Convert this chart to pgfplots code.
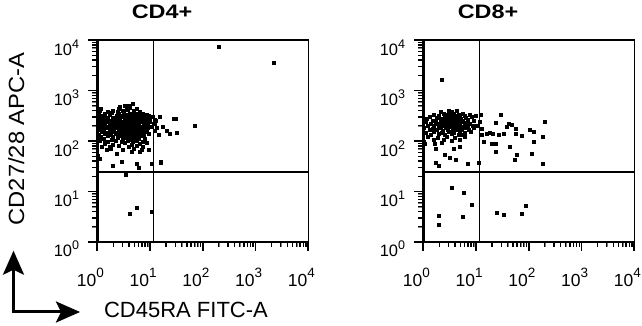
\documentclass[border=0pt]{standalone}
\usepackage{pgfplots}
\pgfplotsset{compat=1.18}
\usepackage{fontspec}
\setmainfont{Liberation Sans}
\usepackage{graphicx}
\usetikzlibrary{arrows.meta}
\newcommand{\xs}[1]{10\raisebox{9pt}{\fontsize{13.5pt}{13.5pt}\selectfont #1}}
\newcommand{\ys}[1]{10\raisebox{7pt}{\fontsize{12.5pt}{12.5pt}\selectfont #1}}

\begin{document}
\begin{tikzpicture}
\useasboundingbox (0,0) rectangle (642pt,326pt);

\begin{axis}[at={(97.3pt,84pt)}, anchor=south west,
  scale only axis, width=211pt, height=202pt,
  xmode=log, ymode=log, xmin=1, xmax=10000, ymin=1, ymax=10000,
  xtick={1,10,100,1000,10000}, ytick={1,10,100,1000,10000},
  xticklabels={\xs{0},\xs{1},\xs{2},\xs{3},\xs{4}},
  yticklabels={\ys{0},\ys{1},\ys{2},\ys{3},\ys{4}},
  tick align=outside, xtick pos=bottom, ytick pos=left,
  major tick length=9pt, minor tick length=5pt,
  every major tick/.style={draw=black, line width=1.6pt},
  axis line style={line width=1.1pt},
  xticklabel style={font=\fontsize{17.5pt}{17.5pt}\selectfont, inner sep=0pt, anchor=base, xshift=-7pt, yshift=-36pt},
  yticklabel style={font=\fontsize{16.5pt}{16.5pt}\selectfont, inner sep=0pt, anchor=base east, xshift=-9pt, yshift=-15pt},
  clip=false]
\addplot[only marks, mark=square*, mark size=1.5pt, black] coordinates {
(4.6,560)
(3.3,505) (4.0,490) (2.7,470)
(2.5,445) (4.2,455) (5.5,430) (1.15,440) (3.6,425)
(1.1,400) (1.6,385) (2.0,405) (3.0,395) (3.8,410) (4.8,390) (6.5,380) (2.4,375)
(1.05,350) (1.4,345) (1.9,360) (2.6,340) (3.2,355) (4.1,345) (5.0,360) (5.9,340) (7.2,350) (8.5,335) (3.6,330)
(1.2,318) (1.7,325) (2.3,312) (2.9,322) (3.6,308) (4.4,320) (5.3,312) (6.3,325) (7.8,310) (9.5,318) (11,300)
(1.0,290) (1.3,296) (1.6,284) (2.0,292) (2.5,286) (3.0,298) (3.5,288) (4.0,294) (4.7,282) (5.5,296) (6.6,286) (8.0,292) (10,284)
(1.1,262) (1.45,270) (1.8,258) (2.2,268) (2.7,262) (3.3,272) (3.9,260) (4.5,268) (5.2,258) (6.0,270) (7.0,262) (8.8,266) (12,270)
(1.0,238) (1.25,246) (1.55,236) (1.9,244) (2.35,234) (2.8,242) (3.4,248) (3.7,232) (4.2,240) (4.9,246) (5.7,236) (6.8,244) (8.2,236) (9.8,242)
(1.15,218) (1.4,224) (1.75,214) (2.1,222) (2.6,216) (3.1,226) (3.6,214) (4.1,222) (4.6,212) (5.4,220) (6.2,226) (7.5,216) (9.0,222) (11.5,218)
(1.0,198) (1.3,204) (1.6,196) (2.0,202) (2.4,194) (2.9,206) (3.3,198) (3.8,204) (4.3,192) (5.0,200) (5.8,206) (6.7,196) (8.0,202) (10.5,196)
(1.1,180) (1.5,186) (1.85,178) (2.25,184) (2.7,176) (3.2,186) (3.7,180) (4.2,188) (4.8,178) (5.5,184) (6.4,176) (7.6,186) (9.2,180)
(1.0,165) (1.35,170) (1.7,162) (2.05,168) (2.5,160) (3.0,170) (3.5,164) (4.0,158) (4.6,168) (5.2,162) (6.1,170) (7.2,160) (8.6,166) (12,162)
(1.2,150) (1.55,146) (1.95,154) (2.4,148) (2.85,144) (3.4,152) (3.9,146) (4.4,154) (5.1,144) (5.9,150) (7.0,146) (8.4,152)
(1.05,136) (1.4,140) (1.8,132) (2.2,138) (2.7,134) (3.2,141) (3.8,131) (4.5,138) (5.3,133) (6.3,140) (7.6,134) (9.5,137)
(1.15,124) (1.6,128) (2.0,120) (2.6,126) (3.1,122) (3.6,129) (4.2,120) (5.0,126) (5.8,121) (7.0,127)
(1.3,112) (1.9,108) (2.4,115) (3.0,110) (3.5,116) (4.1,108) (4.8,114) (6.0,110) (8.0,112)
(1.1,100) (1.6,97) (2.2,103) (2.9,96) (3.7,101) (4.6,95) (5.6,102) (7.2,98)
(1.4,90) (2.0,86) (3.3,92) (4.4,84) (6.5,88) (8.7,91)
(1.2,78) (2.6,80) (3.9,76) (5.5,79)
(1.8,70) (3.0,68) (6.8,66) (4.8,72)
(1.02,420) (1.03,52) (1.0,110) (1.05,230)
(204,7400) (2240,3630) (69,200) (31,280) (32,148) (16,38) (10.7,35) (3.4,22)
(4.2,3.6) (5.6,4.8) (10.7,3.9)
(15,302) (28,275) (17.4,191) (21,160) (24,137) (14.4,132) (16,39) (12.4,224) (13,250) (13.5,180)
(1.4,97) (1.5,66) (1.95,32) (2.9,39) (5.6,36) (6.0,29) (9.3,66) (6.5,61) (2.3,57) (1.12,45) (1.7,77) (4.5,61) (7.4,77)
};
\addplot[black, line width=1.4pt] coordinates {(11.5,1) (11.5,10000)};
\addplot[black, line width=1.4pt] coordinates {(1,24.5) (10000,24.5)};
\addplot[black, line width=2.4pt] coordinates {(1,10000) (1,1) (10000,1)};
\addplot[ycomb, black, line width=1.7pt, no marks] coordinates {(1,0.663) (10,0.663) (100,0.663) (1000,0.663) (10000,0.663)};
\addplot[xcomb, black, line width=1.7pt, no marks] coordinates {(0.675,1) (0.675,10) (0.675,100) (0.675,1000) (0.675,10000)};
\addplot[ycomb, black, line width=1.3pt, no marks] coordinates {(2,0.796) (3,0.796) (4,0.796) (5,0.796) (6,0.796) (7,0.796) (8,0.796) (9,0.796) (20,0.796) (30,0.796) (40,0.796) (50,0.796) (60,0.796) (70,0.796) (80,0.796) (90,0.796) (200,0.796) (300,0.796) (400,0.796) (500,0.796) (600,0.796) (700,0.796) (800,0.796) (900,0.796) (2000,0.796) (3000,0.796) (4000,0.796) (5000,0.796) (6000,0.796) (7000,0.796) (8000,0.796) (9000,0.796)};
\addplot[xcomb, black, line width=1.3pt, no marks] coordinates {(0.804,2) (0.804,3) (0.804,4) (0.804,5) (0.804,6) (0.804,7) (0.804,8) (0.804,9) (0.804,20) (0.804,30) (0.804,40) (0.804,50) (0.804,60) (0.804,70) (0.804,80) (0.804,90) (0.804,200) (0.804,300) (0.804,400) (0.804,500) (0.804,600) (0.804,700) (0.804,800) (0.804,900) (0.804,2000) (0.804,3000) (0.804,4000) (0.804,5000) (0.804,6000) (0.804,7000) (0.804,8000) (0.804,9000)};
\end{axis}

\begin{axis}[at={(423.3pt,84pt)}, anchor=south west,
  scale only axis, width=211pt, height=202pt,
  xmode=log, ymode=log, xmin=1, xmax=10000, ymin=1, ymax=10000,
  xtick={1,10,100,1000,10000}, ytick={1,10,100,1000,10000},
  xticklabels={\xs{0},\xs{1},\xs{2},\xs{3},\xs{4}},
  yticklabels={\ys{0},\ys{1},\ys{2},\ys{3},\ys{4}},
  tick align=outside, xtick pos=bottom, ytick pos=left,
  major tick length=9pt, minor tick length=5pt,
  every major tick/.style={draw=black, line width=1.6pt},
  axis line style={line width=1.1pt},
  xticklabel style={font=\fontsize{17.5pt}{17.5pt}\selectfont, inner sep=0pt, anchor=base, xshift=-7pt, yshift=-36pt},
  yticklabel style={font=\fontsize{16.5pt}{16.5pt}\selectfont, inner sep=0pt, anchor=base east, xshift=-9pt, yshift=-15pt},
  clip=false]
\addplot[only marks, mark=square*, mark size=1.5pt, black] coordinates {
(2.1,385) (3.5,375) (4.3,390) (3.0,395)
(1.6,338) (2.4,345) (2.9,335) (3.8,348) (4.6,336) (5.5,342) (7.5,335)
(1.3,306) (2.0,314) (2.6,304) (3.1,316) (3.5,302) (4.1,312) (4.9,305) (6.0,315) (8.2,308) (10,312)
(1.15,282) (1.8,290) (2.3,280) (2.7,288) (3.0,278) (3.4,292) (3.9,282) (4.4,290) (5.2,280) (6.5,287)
(1.5,258) (2.1,264) (2.5,254) (2.9,262) (3.3,256) (3.7,266) (4.2,255) (4.8,262) (5.7,257) (7.0,264) (9.0,258)
(1.1,236) (1.7,242) (2.2,234) (2.6,240) (3.0,244) (3.5,232) (4.0,240) (4.6,236) (5.4,242) (6.3,234) (11.5,238)
(1.4,216) (1.9,222) (2.4,214) (2.8,220) (3.2,212) (3.7,224) (4.3,216) (5.0,222) (6.0,214) (7.5,220)
(1.2,198) (1.6,204) (2.1,196) (2.5,202) (3.0,194) (3.5,206) (4.1,198) (4.7,204) (5.6,196) (6.8,202) (8.5,198) (10.5,204)
(1.0,183) (1.5,178) (2.0,186) (2.7,180) (3.3,188) (3.9,176) (4.5,184) (5.3,179) (6.5,186) (9.0,180)
(1.3,165) (1.8,170) (2.3,162) (2.9,168) (3.6,160) (4.4,170) (5.1,164) (7.2,166)
(1.1,148) (1.6,152) (2.2,146) (3.0,154) (3.8,147) (4.8,152) (6.0,145) (8.0,150)
(1.4,134) (2.0,138) (2.6,131) (3.4,137) (4.6,132) (5.6,136)
(1.2,120) (1.9,116) (2.8,122) (4.0,118) (6.2,121)
(1.6,104) (2.4,107) (3.5,102) (5.0,106)
(1.0,90) (1.03,95) (2.2,92)
(2.2,1660) (12.3,326) (12.8,178) (12.8,132) (14.2,97) (17.9,146) (21,142) (26.5,135) (24,230) (29.5,326)
(33,142) (38,192) (41,224) (47.5,208) (56,178) (57,142) (74,126) (103,170) (126,152) (198,238) (181,123)
(123,97) (43,77) (23.6,87) (24,61) (59,53) (53,42) (112,57) (181,35) (20,90) (16,140)
(1.66,90) (1.74,72) (2.5,53) (3.1,47) (4.2,42) (1.74,38) (1.93,32.5) (6.8,35) (11,38) (5,77) (3.8,69) (1.07,87)
(3.5,11.9) (5.9,9.6) (8.3,5.5) (1.93,3.3) (1.93,2.2) (5.6,3.1)
(24.6,3.8) (34,3.4) (74,3.6) (87,5.2)
};
\addplot[black, line width=1.4pt] coordinates {(11.6,1) (11.6,10000)};
\addplot[black, line width=1.4pt] coordinates {(1,24.3) (10000,24.3)};
\addplot[black, line width=2.4pt] coordinates {(1,10000) (1,1) (10000,1)};
\addplot[ycomb, black, line width=1.7pt, no marks] coordinates {(1,0.663) (10,0.663) (100,0.663) (1000,0.663) (10000,0.663)};
\addplot[xcomb, black, line width=1.7pt, no marks] coordinates {(0.675,1) (0.675,10) (0.675,100) (0.675,1000) (0.675,10000)};
\addplot[ycomb, black, line width=1.3pt, no marks] coordinates {(2,0.796) (3,0.796) (4,0.796) (5,0.796) (6,0.796) (7,0.796) (8,0.796) (9,0.796) (20,0.796) (30,0.796) (40,0.796) (50,0.796) (60,0.796) (70,0.796) (80,0.796) (90,0.796) (200,0.796) (300,0.796) (400,0.796) (500,0.796) (600,0.796) (700,0.796) (800,0.796) (900,0.796) (2000,0.796) (3000,0.796) (4000,0.796) (5000,0.796) (6000,0.796) (7000,0.796) (8000,0.796) (9000,0.796)};
\addplot[xcomb, black, line width=1.3pt, no marks] coordinates {(0.804,2) (0.804,3) (0.804,4) (0.804,5) (0.804,6) (0.804,7) (0.804,8) (0.804,9) (0.804,20) (0.804,30) (0.804,40) (0.804,50) (0.804,60) (0.804,70) (0.804,80) (0.804,90) (0.804,200) (0.804,300) (0.804,400) (0.804,500) (0.804,600) (0.804,700) (0.804,800) (0.804,900) (0.804,2000) (0.804,3000) (0.804,4000) (0.804,5000) (0.804,6000) (0.804,7000) (0.804,8000) (0.804,9000)};
\end{axis}

\node[anchor=base, font=\fontsize{19.5pt}{19.5pt}\selectfont\bfseries] at (162pt,307.7pt) {\scalebox{1.2}[1]{CD4+}};
\node[anchor=base, font=\fontsize{19.5pt}{19.5pt}\selectfont\bfseries] at (488pt,307.7pt) {\scalebox{1.2}[1]{CD8+}};
\node[anchor=base, font=\fontsize{22pt}{22pt}\selectfont] at (186pt,8pt) {CD45RA FITC-A};
\node[anchor=base, rotate=90, font=\fontsize{22pt}{22pt}\selectfont] at (24pt,187pt) {\scalebox{1.08}[1]{CD27/28 APC-A}};
\draw[line width=3pt, {Stealth[length=24pt,width=21pt,inset=5pt]}-{Stealth[length=24pt,width=21pt,inset=5pt]}] (13.5pt,75.3pt) -- (13.5pt,14pt) -- (80pt,14pt);
\end{tikzpicture}
\end{document}
